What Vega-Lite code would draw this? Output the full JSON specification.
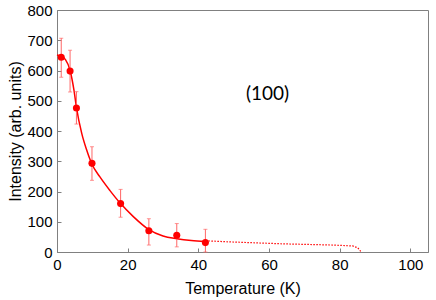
{
  "$schema": "https://vega.github.io/schema/vega-lite/v6.json",
  "width": 371,
  "height": 242,
  "autosize": "none",
  "padding": {"left": 57, "top": 10, "right": 8, "bottom": 48},
  "config": {
    "view": {"stroke": "#808080", "strokeWidth": 1},
    "axis": {
      "domainColor": "#808080",
      "tickColor": "#808080",
      "grid": false,
      "labelFont": "Liberation Sans",
      "labelFontSize": 15,
      "labelColor": "#000000",
      "labelOverlap": false,
      "labelFlush": false,
      "titleFont": "Liberation Sans",
      "titleFontSize": 16,
      "titleFontWeight": "normal",
      "titleColor": "#000000",
      "tickSize": -4,
      "labelPadding": 9
    }
  },
  "datasets": {
    "pts": [
      {"T": 1.2, "I": 644, "lo": 578, "hi": 707},
      {"T": 3.7, "I": 598, "lo": 529, "hi": 667},
      {"T": 5.5, "I": 476, "lo": 423, "hi": 530},
      {"T": 9.9, "I": 293, "lo": 237, "hi": 348},
      {"T": 18, "I": 160, "lo": 115, "hi": 207},
      {"T": 26, "I": 70, "lo": 23, "hi": 110},
      {"T": 33.9, "I": 55, "lo": 17, "hi": 94},
      {"T": 42, "I": 31, "lo": 0, "hi": 75}
    ],
    "fit": [
      {"T": 0, "I": 651},
      {"T": 1.2, "I": 646},
      {"T": 2.4, "I": 636},
      {"T": 3.7, "I": 600},
      {"T": 4.8, "I": 535},
      {"T": 5.5, "I": 478},
      {"T": 7.0, "I": 392},
      {"T": 8.4, "I": 337},
      {"T": 9.9, "I": 290},
      {"T": 12.1, "I": 249},
      {"T": 15, "I": 203},
      {"T": 18, "I": 160},
      {"T": 21.6, "I": 117},
      {"T": 26, "I": 74},
      {"T": 30, "I": 53},
      {"T": 33.9, "I": 44},
      {"T": 38, "I": 38},
      {"T": 42, "I": 35}
    ],
    "tail": [
      {"T": 42, "I": 37},
      {"T": 49.8, "I": 33},
      {"T": 63.9, "I": 27},
      {"T": 78, "I": 23},
      {"T": 83.7, "I": 20},
      {"T": 85.1, "I": 14},
      {"T": 86.1, "I": 0}
    ],
    "label": [{"T": 59.6, "I": 523, "text": "(100)"}]
  },
  "encoding": {
    "x": {"field": "T", "type": "quantitative", "scale": {"domain": [0, 105], "nice": false}, "axis": {"values": [0, 20, 40, 60, 80, 100], "title": "Temperature (K)", "titlePadding": 8}},
    "y": {"field": "I", "type": "quantitative", "scale": {"domain": [0, 800], "nice": false}, "axis": {"values": [0, 100, 200, 300, 400, 500, 600, 700, 800], "tickCount": 9, "title": "Intensity (arb. units)", "titlePadding": 3}}
  },
  "layer": [
    {
      "data": {"name": "tail"},
      "mark": {"type": "line", "color": "#ff0000", "strokeWidth": 1.2, "strokeDash": [1.5, 1.5]}
    },
    {
      "data": {"name": "fit"},
      "mark": {"type": "line", "color": "#ff0000", "strokeWidth": 1.5, "interpolate": "monotone"}
    },
    {
      "data": {"name": "pts"},
      "mark": {"type": "rule", "color": "#ff6666", "strokeWidth": 1},
      "encoding": {
        "y": {"field": "lo", "type": "quantitative", "scale": {"domain": [0, 800], "nice": false}, "axis": {"values": [0, 100, 200, 300, 400, 500, 600, 700, 800], "tickCount": 9, "title": "Intensity (arb. units)", "titlePadding": 3}},
        "y2": {"field": "hi"}
      }
    },
    {
      "data": {"name": "pts"},
      "mark": {"type": "tick", "color": "#ff6666", "thickness": 1, "size": 4, "orient": "horizontal"},
      "encoding": {
        "y": {"field": "hi", "type": "quantitative", "scale": {"domain": [0, 800], "nice": false}, "axis": {"values": [0, 100, 200, 300, 400, 500, 600, 700, 800], "tickCount": 9, "title": "Intensity (arb. units)", "titlePadding": 3}}
      }
    },
    {
      "data": {"name": "pts"},
      "mark": {"type": "tick", "color": "#ff6666", "thickness": 1, "size": 4, "orient": "horizontal"},
      "encoding": {
        "y": {"field": "lo", "type": "quantitative", "scale": {"domain": [0, 800], "nice": false}, "axis": {"values": [0, 100, 200, 300, 400, 500, 600, 700, 800], "tickCount": 9, "title": "Intensity (arb. units)", "titlePadding": 3}}
      }
    },
    {
      "data": {"name": "pts"},
      "mark": {"type": "point", "filled": true, "color": "#ff0000", "opacity": 1, "size": 50}
    },
    {
      "data": {"name": "label"},
      "mark": {"type": "text", "font": "Lato", "fontSize": 19, "color": "#000000"},
      "encoding": {
        "text": {"field": "text"}
      }
    }
  ]
}
